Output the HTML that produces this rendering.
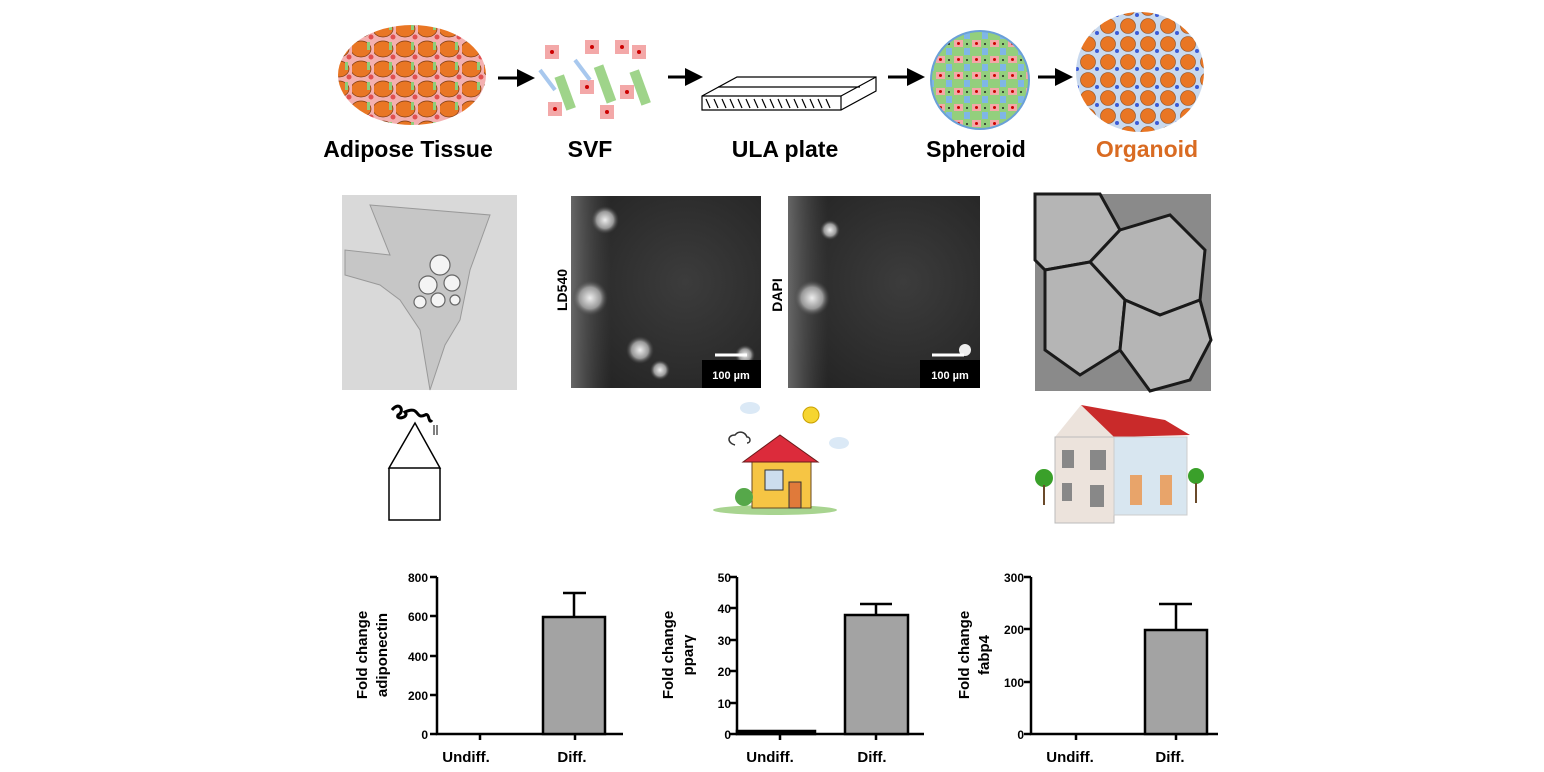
<!DOCTYPE html>
<html><head><meta charset="utf-8"><style>
html,body{margin:0;padding:0;background:#fff;}
svg{display:block;}
text{font-family:"Liberation Sans",sans-serif;font-weight:bold;}
</style></head><body>
<svg width="1544" height="772" viewBox="0 0 1544 772" xmlns="http://www.w3.org/2000/svg">
<defs>
<marker id="ah" markerWidth="6" markerHeight="6" refX="3" refY="3" orient="auto"><path d="M0,0 L6,3 L0,6 z" fill="#000"/></marker>
<radialGradient id="g2" cx="0.6" cy="0.45" r="0.7"><stop offset="0" stop-color="#3c3c3c"/><stop offset="1" stop-color="#242424"/></radialGradient>
<linearGradient id="edge" x1="0" y1="0" x2="1" y2="0"><stop offset="0" stop-color="#777" stop-opacity="0.8"/><stop offset="1" stop-color="#555" stop-opacity="0"/></linearGradient>
<radialGradient id="glow" cx="0.5" cy="0.5" r="0.5"><stop offset="0" stop-color="#eee"/><stop offset="0.6" stop-color="#999"/><stop offset="1" stop-color="#444" stop-opacity="0"/></radialGradient>
<pattern id="org" width="20" height="18" patternUnits="userSpaceOnUse"><rect width="20" height="18" fill="#c9d9ee"/><circle cx="8" cy="8" r="7.5" fill="#e97624" stroke="#8a4a1a" stroke-width="0.6"/><circle cx="17" cy="15" r="2" fill="#3b5bd6"/></pattern>
<pattern id="adi" width="22" height="20" patternUnits="userSpaceOnUse"><rect width="22" height="20" fill="#f4b0b0"/><ellipse cx="9" cy="9" rx="10" ry="8" fill="#e97624" stroke="#7a3a10" stroke-width="0.7"/><circle cx="19" cy="17" r="2.5" fill="#e05050"/><rect x="15" y="2" width="3" height="8" fill="#8fce7a"/></pattern>
<pattern id="sph" width="18" height="16" patternUnits="userSpaceOnUse"><rect width="18" height="16" fill="#93cf7d"/><rect x="0" y="8" width="9" height="7" fill="#f3a8a8"/><circle cx="4.5" cy="11.5" r="1.5" fill="#c00"/><rect x="10" y="0" width="6" height="7" fill="#7fb6e6"/><circle cx="13" cy="12" r="1" fill="#222"/></pattern>
</defs>

<ellipse cx="412" cy="75" rx="74" ry="50" fill="url(#adi)"/>
<line x1="498" y1="78" x2="526" y2="78" stroke="#000" stroke-width="3" marker-end="url(#ah)"/>
<g>
<rect x="545" y="45" width="14" height="14" fill="#f3a8a8"/><circle cx="552" cy="52" r="2" fill="#c00"/>
<rect x="585" y="40" width="14" height="14" fill="#f3a8a8"/><circle cx="592" cy="47" r="2" fill="#c00"/>
<rect x="615" y="40" width="14" height="14" fill="#f3a8a8"/><circle cx="622" cy="47" r="2" fill="#c00"/>
<rect x="632" y="45" width="14" height="14" fill="#f3a8a8"/><circle cx="639" cy="52" r="2" fill="#c00"/>
<rect x="560" y="75" width="10" height="35" fill="#9fd48a" transform="rotate(-20 565 92)"/>
<rect x="600" y="65" width="10" height="38" fill="#9fd48a" transform="rotate(-20 605 84)"/>
<rect x="635" y="70" width="10" height="35" fill="#9fd48a" transform="rotate(-20 640 87)"/>
<rect x="580" y="80" width="14" height="14" fill="#f3a8a8"/><circle cx="587" cy="87" r="2" fill="#c00"/>
<rect x="620" y="85" width="14" height="14" fill="#f3a8a8"/><circle cx="627" cy="92" r="2" fill="#c00"/>
<rect x="548" y="102" width="14" height="14" fill="#f3a8a8"/><circle cx="555" cy="109" r="2" fill="#c00"/>
<rect x="600" y="105" width="14" height="14" fill="#f3a8a8"/><circle cx="607" cy="112" r="2" fill="#c00"/>
<line x1="540" y1="70" x2="555" y2="90" stroke="#a8c8ee" stroke-width="4"/>
<line x1="575" y1="60" x2="590" y2="80" stroke="#a8c8ee" stroke-width="4"/>
</g>
<line x1="668" y1="77" x2="694" y2="77" stroke="#000" stroke-width="3" marker-end="url(#ah)"/>
<g fill="none" stroke="#000" stroke-width="1.2">
<path d="M702,96 L737,77 L876,77 L876,91 L841,110 L702,110 Z"/>
<line x1="702" y1="96" x2="841" y2="96"/><line x1="841" y1="96" x2="876" y2="77"/><line x1="841" y1="96" x2="841" y2="110"/>
<path d="M718,87 L860,87" />
<path d="M706,99 l4,9 M714,99 l4,9 M722,99 l4,9 M730,99 l4,9 M738,99 l4,9 M746,99 l4,9 M754,99 l4,9 M762,99 l4,9 M770,99 l4,9 M778,99 l4,9 M786,99 l4,9 M794,99 l4,9 M802,99 l4,9 M810,99 l4,9 M818,99 l4,9 M826,99 l4,9"/>
</g>
<line x1="888" y1="77" x2="916" y2="77" stroke="#000" stroke-width="3" marker-end="url(#ah)"/>
<circle cx="980" cy="80" r="49" fill="url(#sph)" stroke="#6aa0d8" stroke-width="2"/>
<line x1="1038" y1="77" x2="1064" y2="77" stroke="#000" stroke-width="3" marker-end="url(#ah)"/>
<ellipse cx="1140" cy="72" rx="64" ry="60" fill="url(#org)"/>

<g font-size="23" text-anchor="middle">
<text x="408" y="157">Adipose Tissue</text>
<text x="590" y="157">SVF</text>
<text x="785" y="157">ULA plate</text>
<text x="976" y="157">Spheroid</text>
<text x="1147" y="157" fill="#d96b22">Organoid</text>
</g>

<rect x="342" y="195" width="175" height="195" fill="#d9d9d9"/>
<path d="M370,205 L490,215 L470,270 L460,320 L445,345 L430,390 L420,330 L400,300 L380,285 L345,275 L345,250 L390,255 Z" fill="#c6c6c6" stroke="#999"/>
<g fill="#f4f4f4" stroke="#666" stroke-width="1.2"><circle cx="440" cy="265" r="10"/><circle cx="428" cy="285" r="9"/><circle cx="452" cy="283" r="8"/><circle cx="438" cy="300" r="7"/><circle cx="420" cy="302" r="6"/><circle cx="455" cy="300" r="5"/></g>

<rect x="571" y="196" width="190" height="192" fill="url(#g2)"/>
<rect x="571" y="196" width="40" height="192" fill="url(#edge)"/>
<circle cx="590" cy="298" r="18" fill="url(#glow)"/><circle cx="640" cy="350" r="14" fill="url(#glow)"/><circle cx="660" cy="370" r="10" fill="url(#glow)"/><circle cx="605" cy="220" r="14" fill="url(#glow)"/><circle cx="745" cy="355" r="10" fill="url(#glow)"/>
<rect x="702" y="360" width="59" height="28" fill="#000"/>
<line x1="715" y1="355" x2="747" y2="355" stroke="#fff" stroke-width="3"/>
<text x="731" y="379" font-size="11" fill="#fff" text-anchor="middle" font-weight="normal">100 µm</text>
<text x="567" y="290" font-size="14" transform="rotate(-90 567 290)" text-anchor="middle">LD540</text>

<rect x="788" y="196" width="192" height="192" fill="url(#g2)"/>
<rect x="788" y="196" width="40" height="192" fill="url(#edge)"/>
<circle cx="812" cy="298" r="18" fill="url(#glow)"/><circle cx="965" cy="350" r="6" fill="#eee"/><circle cx="830" cy="230" r="10" fill="url(#glow)"/>
<rect x="920" y="360" width="60" height="28" fill="#000"/>
<line x1="932" y1="355" x2="964" y2="355" stroke="#fff" stroke-width="3"/>
<text x="950" y="379" font-size="11" fill="#fff" text-anchor="middle" font-weight="normal">100 µm</text>
<text x="782" y="295" font-size="14" transform="rotate(-90 782 295)" text-anchor="middle">DAPI</text>

<rect x="1035" y="194" width="176" height="197" fill="#8a8a8a"/>
<g fill="#b5b5b5" stroke="#1a1a1a" stroke-width="3">
<path d="M1035,194 L1100,194 L1120,230 L1090,262 L1045,270 L1035,260 Z"/>
<path d="M1120,230 L1170,215 L1205,250 L1200,300 L1160,315 L1125,300 L1090,262 Z"/>
<path d="M1045,270 L1090,262 L1125,300 L1120,350 L1080,375 L1045,350 Z"/>
<path d="M1125,300 L1160,315 L1200,300 L1211,340 L1190,380 L1150,391 L1120,350 Z"/>
</g>

<g fill="none" stroke="#000" stroke-width="1.5">
<path d="M389,468 L415,423 L440,468 Z M389,468 L389,520 L440,520 L440,468"/>
<path d="M392,410 C400,400 405,412 398,415 C395,420 410,418 405,412 C420,405 415,420 425,415 C430,412 428,425 432,420" stroke-width="3"/>
<path d="M434,425 l0,10 M437,425 l0,10" stroke-width="1"/>
</g>
<g>
<ellipse cx="775" cy="510" rx="62" ry="5" fill="#a8d490"/>
<rect x="752" y="458" width="59" height="50" fill="#f6c544" stroke="#6a4a20"/>
<path d="M743,462 L780,435 L818,462 Z" fill="#dc2b3b" stroke="#6a1a1a"/>
<rect x="765" y="470" width="18" height="20" fill="#cde" stroke="#333"/>
<rect x="789" y="482" width="12" height="26" fill="#e07a3a" stroke="#333"/>
<circle cx="744" cy="497" r="9" fill="#56a84a"/>
<circle cx="811" cy="415" r="8" fill="#f6d530" stroke="#c9a000"/>
<ellipse cx="750" cy="408" rx="10" ry="6" fill="#dbe9f6"/>
<ellipse cx="839" cy="443" rx="10" ry="6" fill="#dbe9f6"/>
<path d="M735,445 c-8,-2 -8,-10 0,-10 c4,-5 10,-3 12,2 c4,0 4,6 0,6" fill="none" stroke="#333" stroke-width="1.5"/>
</g>
<g>
<path d="M1055,437 L1081,405 L1114,437 Z" fill="#ece3dc"/>
<path d="M1081,405 L1165,420 L1190,435 L1114,437 Z" fill="#c92a2a"/>
<rect x="1055" y="437" width="59" height="86" fill="#ece3dc" stroke="#bbb"/>
<rect x="1114" y="437" width="73" height="78" fill="#d8e6f0" stroke="#ccc"/>
<rect x="1062" y="450" width="12" height="18" fill="#888"/><rect x="1090" y="450" width="16" height="20" fill="#888"/>
<rect x="1062" y="483" width="10" height="18" fill="#888"/><rect x="1090" y="485" width="14" height="22" fill="#888"/>
<rect x="1130" y="475" width="12" height="30" fill="#e8a46a"/><rect x="1160" y="475" width="12" height="30" fill="#e8a46a"/>
<circle cx="1044" cy="478" r="9" fill="#3aa02a"/><rect x="1043" y="485" width="2" height="20" fill="#6a4a2a"/>
<circle cx="1196" cy="476" r="8" fill="#3aa02a"/><rect x="1195" y="483" width="2" height="20" fill="#6a4a2a"/>
</g>

<g stroke="#000" stroke-width="2.5" fill="none">
<path d="M437,577 L437,734 L623,734"/>
<path d="M430,577 H437 M430,616 H437 M430,656 H437 M430,695 H437 M430,734 H437 M480,734 V740 M575,734 V740"/>
<rect x="543" y="617" width="62" height="117" fill="#a3a3a3"/>
<path d="M574,617 V593 M563,593 H586"/>
<path d="M737,577 L737,734 L924,734"/>
<path d="M730,577 H737 M730,608 H737 M730,640 H737 M730,671 H737 M730,703 H737 M730,734 H737 M780,734 V740 M876,734 V740"/>
<rect x="845" y="615" width="63" height="119" fill="#a3a3a3"/>
<rect x="737" y="731" width="78" height="3" fill="#000"/>
<path d="M876,615 V604 M860,604 H892"/>
<path d="M1031,577 L1031,734 L1218,734"/>
<path d="M1024,577 H1031 M1024,629 H1031 M1024,682 H1031 M1024,734 H1031 M1076,734 V740 M1176,734 V740"/>
<rect x="1145" y="630" width="62" height="104" fill="#a3a3a3"/>
<path d="M1176,630 V604 M1159,604 H1192"/>
</g>
<g font-size="12" text-anchor="end">
<text x="428" y="582">800</text><text x="428" y="621">600</text><text x="428" y="661">400</text><text x="428" y="700">200</text><text x="428" y="739">0</text>
<text x="731" y="582">50</text><text x="731" y="613">40</text><text x="731" y="645">30</text><text x="731" y="676">20</text><text x="731" y="708">10</text><text x="731" y="739">0</text>
<text x="1024" y="582">300</text><text x="1024" y="634">200</text><text x="1024" y="687">100</text><text x="1024" y="739">0</text>
</g>
<g font-size="15" text-anchor="middle">
<text x="466" y="762">Undiff.</text><text x="572" y="762">Diff.</text>
<text x="770" y="762">Undiff.</text><text x="872" y="762">Diff.</text>
<text x="1070" y="762">Undiff.</text><text x="1170" y="762">Diff.</text>
<text transform="translate(367 655) rotate(-90)">Fold change</text>
<text transform="translate(387 655) rotate(-90)">adiponectin</text>
<text transform="translate(673 655) rotate(-90)">Fold change</text>
<text transform="translate(693 655) rotate(-90)">pparγ</text>
<text transform="translate(969 655) rotate(-90)">Fold change</text>
<text transform="translate(989 655) rotate(-90)">fabp4</text>
</g>
</svg>
</body></html>
